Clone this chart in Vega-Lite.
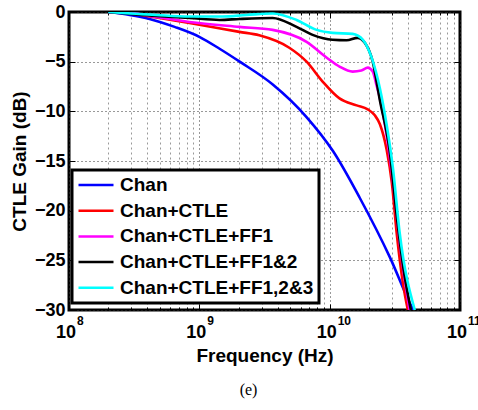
{
  "$schema": "https://vega.github.io/schema/vega-lite/v6.json",
  "width": 391,
  "height": 298,
  "autosize": "none",
  "padding": {"left": 69, "top": 12, "right": 18, "bottom": 100},
  "config": {
    "view": {"stroke": "black", "strokeWidth": 3},
    "font": "Liberation Sans",
    "axis": {
      "domain": false,
      "labelFont": "Liberation Sans",
      "labelFontWeight": "bold",
      "labelFontSize": 18,
      "labelColor": "black",
      "titleFont": "Liberation Sans",
      "titleFontWeight": "bold",
      "titleFontSize": 19,
      "titleColor": "black",
      "tickColor": "black",
      "tickWidth": 1,
      "labelFlush": false,
      "labelOverlap": false,
      "labelBound": false
    },
    "legend": {
      "orient": "none",
      "legendX": 3,
      "legendY": 158,
      "strokeColor": "black",
      "strokeWidth": 3,
      "fillColor": "white",
      "padding": 5,
      "symbolType": "stroke",
      "symbolSize": 1225,
      "symbolStrokeWidth": 2.5,
      "labelFont": "Liberation Sans",
      "labelFontSize": 19,
      "labelFontWeight": "bold",
      "labelColor": "black",
      "labelOffset": 5,
      "labelLimit": 0,
      "clipHeight": 20,
      "rowPadding": 5.7
    }
  },
  "title": {
    "text": "(e)",
    "orient": "bottom",
    "offset": 16,
    "dx": -16,
    "font": "Liberation Serif",
    "fontSize": 16,
    "fontWeight": "normal",
    "color": "black"
  },
  "data": {
    "values": [
      {"series": "Chan", "freq": 2e8, "gain": 0},
      {"series": "Chan", "freq": 2.92e8, "gain": -0.3},
      {"series": "Chan", "freq": 4.15e8, "gain": -0.7},
      {"series": "Chan", "freq": 6.46e8, "gain": -1.5},
      {"series": "Chan", "freq": 1.0e9, "gain": -2.5},
      {"series": "Chan", "freq": 1.43e9, "gain": -3.7},
      {"series": "Chan", "freq": 2.04e9, "gain": -5.0},
      {"series": "Chan", "freq": 3.66e9, "gain": -7.3},
      {"series": "Chan", "freq": 6.67e9, "gain": -10.6},
      {"series": "Chan", "freq": 1.06e10, "gain": -14.0},
      {"series": "Chan", "freq": 1.7e10, "gain": -18.7},
      {"series": "Chan", "freq": 2.9e10, "gain": -24.7},
      {"series": "Chan", "freq": 4.27e10, "gain": -29.7},
      {"series": "Chan", "freq": 4.39e10, "gain": -30},
      {"series": "Chan+CTLE", "freq": 2e8, "gain": 0},
      {"series": "Chan+CTLE", "freq": 3e8, "gain": -0.15},
      {"series": "Chan+CTLE", "freq": 4.67e8, "gain": -0.55},
      {"series": "Chan+CTLE", "freq": 8.4e8, "gain": -1.1},
      {"series": "Chan+CTLE", "freq": 2.03e9, "gain": -2.0},
      {"series": "Chan+CTLE", "freq": 2.88e9, "gain": -2.35},
      {"series": "Chan+CTLE", "freq": 4.9e9, "gain": -3.6},
      {"series": "Chan+CTLE", "freq": 6.65e9, "gain": -5.0},
      {"series": "Chan+CTLE", "freq": 8.83e9, "gain": -7.0},
      {"series": "Chan+CTLE", "freq": 1.19e10, "gain": -8.7},
      {"series": "Chan+CTLE", "freq": 1.61e10, "gain": -9.4},
      {"series": "Chan+CTLE", "freq": 1.96e10, "gain": -9.8},
      {"series": "Chan+CTLE", "freq": 2.22e10, "gain": -10.4},
      {"series": "Chan+CTLE", "freq": 2.43e10, "gain": -11.3},
      {"series": "Chan+CTLE", "freq": 2.74e10, "gain": -13.9},
      {"series": "Chan+CTLE", "freq": 3.0e10, "gain": -17.2},
      {"series": "Chan+CTLE", "freq": 3.27e10, "gain": -22.3},
      {"series": "Chan+CTLE", "freq": 3.65e10, "gain": -27.3},
      {"series": "Chan+CTLE", "freq": 3.98e10, "gain": -30},
      {"series": "Chan+CTLE+FF1", "freq": 2e8, "gain": 0},
      {"series": "Chan+CTLE+FF1", "freq": 3e8, "gain": -0.1},
      {"series": "Chan+CTLE+FF1", "freq": 4.67e8, "gain": -0.5},
      {"series": "Chan+CTLE+FF1", "freq": 8.4e8, "gain": -1.0},
      {"series": "Chan+CTLE+FF1", "freq": 2.03e9, "gain": -1.5},
      {"series": "Chan+CTLE+FF1", "freq": 3.65e9, "gain": -1.8},
      {"series": "Chan+CTLE+FF1", "freq": 6.65e9, "gain": -3.0},
      {"series": "Chan+CTLE+FF1", "freq": 9.5e9, "gain": -4.6},
      {"series": "Chan+CTLE+FF1", "freq": 1.19e10, "gain": -5.5},
      {"series": "Chan+CTLE+FF1", "freq": 1.5e10, "gain": -6.0},
      {"series": "Chan+CTLE+FF1", "freq": 1.75e10, "gain": -5.9},
      {"series": "Chan+CTLE+FF1", "freq": 1.96e10, "gain": -5.6},
      {"series": "Chan+CTLE+FF1", "freq": 2.14e10, "gain": -6.0},
      {"series": "Chan+CTLE+FF1", "freq": 2.3e10, "gain": -7.5},
      {"series": "Chan+CTLE+FF1", "freq": 2.43e10, "gain": -8.7},
      {"series": "Chan+CTLE+FF1", "freq": 2.74e10, "gain": -12.5},
      {"series": "Chan+CTLE+FF1", "freq": 3.05e10, "gain": -17.0},
      {"series": "Chan+CTLE+FF1", "freq": 3.5e10, "gain": -24.0},
      {"series": "Chan+CTLE+FF1", "freq": 4.1e10, "gain": -30},
      {"series": "Chan+CTLE+FF1&2", "freq": 2e8, "gain": 0},
      {"series": "Chan+CTLE+FF1&2", "freq": 4.67e8, "gain": -0.4},
      {"series": "Chan+CTLE+FF1&2", "freq": 8.4e8, "gain": -0.6},
      {"series": "Chan+CTLE+FF1&2", "freq": 1.43e9, "gain": -0.8},
      {"series": "Chan+CTLE+FF1&2", "freq": 2.03e9, "gain": -0.7},
      {"series": "Chan+CTLE+FF1&2", "freq": 3.65e9, "gain": -0.6},
      {"series": "Chan+CTLE+FF1&2", "freq": 5.57e9, "gain": -1.5},
      {"series": "Chan+CTLE+FF1&2", "freq": 7.4e9, "gain": -2.3},
      {"series": "Chan+CTLE+FF1&2", "freq": 1.05e10, "gain": -2.8},
      {"series": "Chan+CTLE+FF1&2", "freq": 1.35e10, "gain": -2.85},
      {"series": "Chan+CTLE+FF1&2", "freq": 1.64e10, "gain": -2.6},
      {"series": "Chan+CTLE+FF1&2", "freq": 1.86e10, "gain": -3.1},
      {"series": "Chan+CTLE+FF1&2", "freq": 2.14e10, "gain": -5.0},
      {"series": "Chan+CTLE+FF1&2", "freq": 2.43e10, "gain": -8.9},
      {"series": "Chan+CTLE+FF1&2", "freq": 2.88e10, "gain": -13.9},
      {"series": "Chan+CTLE+FF1&2", "freq": 3.3e10, "gain": -21.0},
      {"series": "Chan+CTLE+FF1&2", "freq": 3.7e10, "gain": -26.0},
      {"series": "Chan+CTLE+FF1&2", "freq": 4.2e10, "gain": -30},
      {"series": "Chan+CTLE+FF1,2&3", "freq": 2e8, "gain": 0},
      {"series": "Chan+CTLE+FF1,2&3", "freq": 4.67e8, "gain": -0.3},
      {"series": "Chan+CTLE+FF1,2&3", "freq": 8.4e8, "gain": -0.45},
      {"series": "Chan+CTLE+FF1,2&3", "freq": 1.5e9, "gain": -0.45},
      {"series": "Chan+CTLE+FF1,2&3", "freq": 2.3e9, "gain": -0.3},
      {"series": "Chan+CTLE+FF1,2&3", "freq": 3.65e9, "gain": -0.15},
      {"series": "Chan+CTLE+FF1,2&3", "freq": 5.57e9, "gain": -0.8},
      {"series": "Chan+CTLE+FF1,2&3", "freq": 7.94e9, "gain": -1.8},
      {"series": "Chan+CTLE+FF1,2&3", "freq": 1.05e10, "gain": -2.1},
      {"series": "Chan+CTLE+FF1,2&3", "freq": 1.5e10, "gain": -2.2},
      {"series": "Chan+CTLE+FF1,2&3", "freq": 1.8e10, "gain": -2.8},
      {"series": "Chan+CTLE+FF1,2&3", "freq": 2.1e10, "gain": -4.6},
      {"series": "Chan+CTLE+FF1,2&3", "freq": 2.43e10, "gain": -7.7},
      {"series": "Chan+CTLE+FF1,2&3", "freq": 2.74e10, "gain": -11.4},
      {"series": "Chan+CTLE+FF1,2&3", "freq": 3.05e10, "gain": -15.6},
      {"series": "Chan+CTLE+FF1,2&3", "freq": 3.45e10, "gain": -22.3},
      {"series": "Chan+CTLE+FF1,2&3", "freq": 4.5e10, "gain": -30}
    ]
  },
  "layer": [
    {
      "mark": {"type": "line", "strokeWidth": 2.6, "interpolate": "monotone", "clip": true},
      "encoding": {
        "x": {
          "field": "freq",
          "type": "quantitative",
          "scale": {"type": "log", "domain": [1e8, 1e11], "nice": false},
          "axis": {
            "orient": "bottom",
            "values": [1e8, 2e8, 3e8, 4e8, 5e8, 6e8, 7e8, 8e8, 9e8, 1e9, 2e9, 3e9, 4e9, 5e9, 6e9, 7e9, 8e9, 9e9, 1e10, 2e10, 3e10, 4e10, 5e10, 6e10, 7e10, 8e10, 9e10, 1e11],
            "labelExpr": "abs(log(datum.value)/LN10 - round(log(datum.value)/LN10)) < 0.01 ? '10' : ''",
            "labelAlign": "center",
            "labelBaseline": "top",
            "labelOffset": -3.5,
            "labelPadding": 19.5,
            "tickSize": {"condition": {"test": "abs(log(datum.value)/LN10 - round(log(datum.value)/LN10)) < 0.01", "value": -6}, "value": -3},
            "grid": true,
            "gridColor": {"condition": {"test": "abs(log(datum.value)/LN10 - round(log(datum.value)/LN10)) < 0.01", "value": "#333333"}, "value": "#999999"},
            "gridDash": {"condition": {"test": "abs(log(datum.value)/LN10 - round(log(datum.value)/LN10)) < 0.01", "value": [1, 3]}, "value": [2, 3]},
            "title": "Frequency (Hz)",
            "titlePadding": 2
          }
        },
        "y": {
          "field": "gain",
          "type": "quantitative",
          "scale": {"domain": [-30, 0], "nice": false},
          "axis": {
            "orient": "left",
            "values": [-30, -25, -20, -15, -10, -5, 0],
            "tickSize": -6,
            "labelPadding": 10,
            "grid": true,
            "gridColor": "#333333",
            "gridDash": [1, 3],
            "title": "CTLE Gain (dB)",
            "titlePadding": 5
          }
        },
        "color": {
          "field": "series",
          "type": "nominal",
          "sort": ["Chan", "Chan+CTLE", "Chan+CTLE+FF1", "Chan+CTLE+FF1&2", "Chan+CTLE+FF1,2&3"],
          "scale": {
            "domain": ["Chan", "Chan+CTLE", "Chan+CTLE+FF1", "Chan+CTLE+FF1&2", "Chan+CTLE+FF1,2&3"],
            "range": ["#0000ff", "#ff0000", "#ff00ff", "#000000", "#00ffff"]
          },
          "legend": {"title": null}
        }
      }
    },
    {
      "mark": {"type": "line", "opacity": 0},
      "encoding": {
        "x": {
          "field": "freq",
          "type": "quantitative",
          "axis": {
            "orient": "top",
            "values": [1e8, 2e8, 3e8, 4e8, 5e8, 6e8, 7e8, 8e8, 9e8, 1e9, 2e9, 3e9, 4e9, 5e9, 6e9, 7e9, 8e9, 9e9, 1e10, 2e10, 3e10, 4e10, 5e10, 6e10, 7e10, 8e10, 9e10, 1e11],
            "labels": false,
            "grid": false,
            "title": null,
            "tickSize": {"condition": {"test": "abs(log(datum.value)/LN10 - round(log(datum.value)/LN10)) < 0.01", "value": -6}, "value": -3}
          }
        },
        "y": {
          "field": "gain",
          "type": "quantitative",
          "axis": {
            "orient": "right",
            "values": [-30, -25, -20, -15, -10, -5, 0],
            "labels": false,
            "grid": false,
            "title": null,
            "tickSize": -6
          }
        },
        "detail": {"field": "series"}
      }
    },
    {
      "mark": {"type": "line", "opacity": 0},
      "encoding": {
        "x": {
          "field": "freq",
          "type": "quantitative",
          "axis": {
            "orient": "bottom",
            "values": [1e8, 1e9, 1e10, 1e11],
            "labelExpr": "format(round(log(datum.value)/LN10), 'd')",
            "labelFontSize": 12,
            "labelAlign": "left",
            "labelBaseline": "top",
            "labelOffset": 7.5,
            "labelPadding": 5,
            "ticks": false,
            "grid": false,
            "title": null
          }
        },
        "y": {"field": "gain", "type": "quantitative", "axis": null},
        "detail": {"field": "series"}
      }
    }
  ],
  "resolve": {"axis": {"x": "independent", "y": "independent"}}
}
